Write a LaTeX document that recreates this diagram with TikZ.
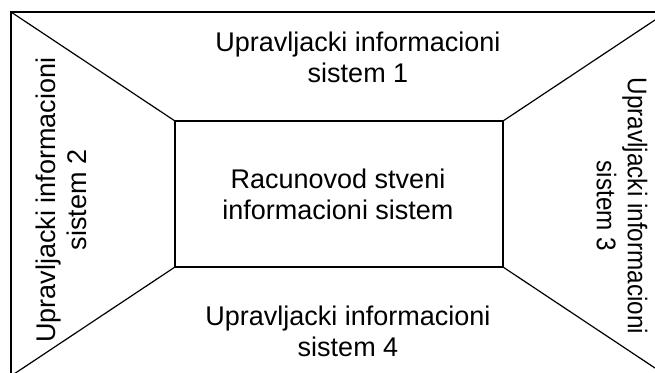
\documentclass[tikz,border=0pt]{standalone}
\usepackage{fontspec}
\setmainfont{Liberation Sans}
\begin{document}
\begin{tikzpicture}[x=1pt,y=-1pt,
  frame/.style={draw=black, line width=1.2pt},
  edge/.style={draw=black, line width=1.2pt},
  label/.style={align=center, inner sep=0pt, font=\fontsize{27}{31}\selectfont}]
\useasboundingbox (0,0) rectangle (655,372);
\clip (0,0) rectangle (655,372);
% outer frame corners
\coordinate (oa) at (11,12);
\coordinate (ob) at (667,12);
\coordinate (oc) at (667,376);
\coordinate (od) at (11,376);
% inner box corners
\coordinate (ia) at (175,121);
\coordinate (ib) at (503,121);
\coordinate (ic) at (503,267);
\coordinate (id) at (175,267);
\draw[frame] (oa) -- (ob) -- (oc) -- (od) -- cycle;
\draw[frame] (ia) -- (ib) -- (ic) -- (id) -- cycle;
\draw[edge] (oa) -- (ia);
\draw[edge] (ob) -- (ib);
\draw[edge] (oc) -- (ic);
\draw[edge] (od) -- (id);
% labels
\node[label] (core) at (338,194) {Racunovod stveni\\informacioni sistem};
\node[label] (top) at (358,57) {Upravljacki informacioni\\sistem 1};
\node[label] (bottom) at (348,331) {Upravljacki informacioni\\sistem 4};
\node[label, rotate=90] (left) at (61,200) {Upravljacki informacioni\\sistem 2};
\node[label, rotate=-90, xscale=0.9] (right) at (622,206) {Upravljacki informacioni\\sistem 3};
\end{tikzpicture}
\end{document}
